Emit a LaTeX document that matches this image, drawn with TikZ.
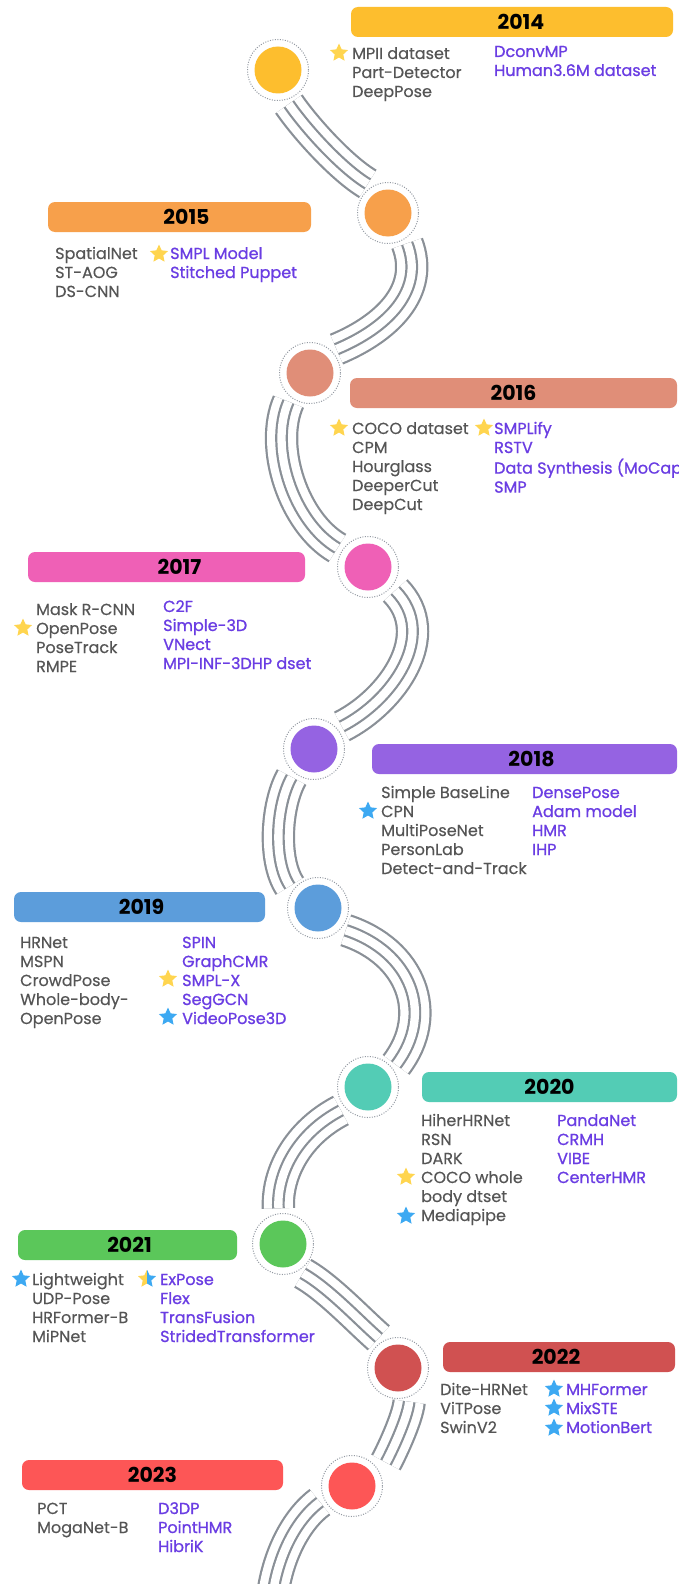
\documentclass[tikz,border=0pt]{standalone}
\usepackage{fontspec}
\setmainfont{Poppins}
\newfontfamily\tloldfont{Poppins}[FakeBold=0.35]
\newfontfamily\tlnewfont{Poppins}[FakeBold=0.9]
\usepackage{tikz}
\usetikzlibrary{shapes.geometric, positioning}
\definecolor{yr14}{HTML}{FDBE2E}
\definecolor{yr15}{HTML}{F7A04B}
\definecolor{yr16}{HTML}{E08E78}
\definecolor{yr17}{HTML}{EF60B6}
\definecolor{yr18}{HTML}{9563E2}
\definecolor{yr19}{HTML}{5C9DDB}
\definecolor{yr20}{HTML}{53CCB5}
\definecolor{yr21}{HTML}{5BC75A}
\definecolor{yr22}{HTML}{D05151}
\definecolor{yr23}{HTML}{FD5656}
\definecolor{tlBand}{HTML}{8A9097}
\definecolor{tlRing}{HTML}{9399A2}
\definecolor{tlGray}{HTML}{555555}
\definecolor{tlPurple}{HTML}{6A3DE3}
\definecolor{tlYellow}{HTML}{FFD54F}
\definecolor{tlBlue}{HTML}{3DA9F2}
\newcommand{\tlfont}{\fontsize{16}{19}\selectfont}
\newcommand{\tllist}[1]{\begin{tabular}[t]{@{}l@{}}#1\end{tabular}}
\tikzset{
  tl-dot/.style={
    circle, minimum size=61pt, inner sep=0pt, draw=tlRing,
    line width=1pt, dash pattern=on 1pt off 1.5pt, fill=white,
    path picture={\fill[#1] (path picture bounding box.center) circle (23.5pt);}
  },
  tl-bar/.style={
    rectangle, rounded corners=7pt, fill=#1, minimum height=30pt,
    inner sep=0pt
  },
  tl-year/.style={inner sep=0pt, text=black, font=\fontsize{20.5}{20}\selectfont\bfseries},
  tl-old/.style={anchor=base west, inner sep=0pt, text=tlGray, font=\tlfont\tloldfont},
  tl-new/.style={tl-old, text=tlPurple, font=\tlfont\tlnewfont},
  tl-star/.style={
    star, star points=5, star point ratio=2.1, minimum size=19pt,
    inner sep=0pt, fill=#1
  },
  tl-half/.style={
    tl-star=none,
    path picture={
      \fill[tlYellow] (path picture bounding box.north west) rectangle (path picture bounding box.south);
      \fill[tlBlue] (path picture bounding box.north) rectangle (path picture bounding box.south east);
    }
  },
  tl-band/.style={
    draw=tlBand, line width=2.2pt, double=white, double distance=29pt,
    shorten <=5pt, shorten >=5pt,
    postaction={draw=tlBand, line width=2.2pt, double=white, double distance=8.3pt}
  },
}

\begin{document}
\begin{tikzpicture}[x=1pt, y=-1pt, font=\tlfont]
  \fill[white] (0,0) rectangle (678,1584);
  \useasboundingbox (0,0) rectangle (678,1584);

  % dots on the ribbon
  \node[tl-dot=yr14] (d14) at (278,70) {};
  \node[tl-dot=yr15] (d15) at (388,213) {};
  \node[tl-dot=yr16] (d16) at (310,373) {};
  \node[tl-dot=yr17] (d17) at (368,567) {};
  \node[tl-dot=yr18] (d18) at (314,749) {};
  \node[tl-dot=yr19] (d19) at (318,908) {};
  \node[tl-dot=yr20] (d20) at (368,1087) {};
  \node[tl-dot=yr21] (d21) at (283,1244) {};
  \node[tl-dot=yr22] (d22) at (398,1368) {};
  \node[tl-dot=yr23] (d23) at (352,1486) {};
  \coordinate (tail) at (272,1600);

  % ribbon
  \draw[tl-band] (d14.285) .. controls +(20,29) and +(-30,-18) .. (d15.121);
  \draw[tl-band] (d15.304) .. controls +(20,52) and +(55,-23) .. (d16.45);
  \draw[tl-band] (d16.231) .. controls +(-22,50) and +(-48,-28) .. (d17.148);
  \draw[tl-band] (d17.320) .. controls +(47,48) and +(55,-28) .. (d18.41);
  \draw[tl-band] (d18.230) .. controls +(-18,32) and +(-20,-30) .. (d19.145);
  \draw[tl-band] (d19.318) .. controls +(70,23) and +(42,-55) .. (d20.36);
  \draw[tl-band] (d20.223) .. controls +(-48,25) and +(-2,-40) .. (d21.98);
  \draw[tl-band] (d21.300) .. controls +(30,17) and +(-25,-22) .. (d22.120);
  \draw[tl-band, shorten >=12pt] (d22.292) .. controls +(-2,22) and +(10,-18) .. (d23.25);
  \draw[tl-band, shorten >=0pt] (d23.205) .. controls +(-27,20) and +(5,-45) .. (tail);

  % year bars
  \node[tl-bar=yr14, minimum width=322pt] (b14) at (512,22) {};
  \node[tl-bar=yr15, minimum width=263pt] (b15) at (179.5,217) {};
  \node[tl-bar=yr16, minimum width=327pt] (b16) at (513.5,393) {};
  \node[tl-bar=yr17, minimum width=277pt] (b17) at (166.5,567) {};
  \node[tl-bar=yr18, minimum width=305pt] (b18) at (524.5,759) {};
  \node[tl-bar=yr19, minimum width=251pt] (b19) at (139.5,907) {};
  \node[tl-bar=yr20, minimum width=255pt] (b20) at (549.5,1087) {};
  \node[tl-bar=yr21, minimum width=219pt] (b21) at (127.5,1245) {};
  \node[tl-bar=yr22, minimum width=232pt] (b22) at (559,1357) {};
  \node[tl-bar=yr23, minimum width=261pt] (b23) at (152.5,1475) {};

  \node[tl-year, xshift=9pt] (y14) at (b14) {2014};
  \node[tl-year, xshift=7pt] (y15) at (b15) {2015};
  \node[tl-year] (y16) at (b16) {2016};
  \node[tl-year, xshift=13pt] (y17) at (b17) {2017};
  \node[tl-year, xshift=7pt] (y18) at (b18) {2018};
  \node[tl-year, xshift=2pt] (y19) at (b19) {2019};
  \node[tl-year] (y20) at (b20) {2020};
  \node[tl-year, xshift=2pt] (y21) at (b21) {2021};
  \node[tl-year, xshift=-3pt] (y22) at (b22) {2022};
  \node[tl-year] (y23) at (b23) {2023};

  % 2014
  \node[tl-old] (o14) at (352,59) {\tllist{MPII dataset\\Part-Detector\\DeepPose}};
  \node[tl-new] (n14) at (494,57) {\tllist{DconvMP\\Human3.6M dataset}};
  \node[tl-star=tlYellow] (s14) at (339,53) {};
  % 2015
  \node[tl-old] (o15) at (55,259) {\tllist{SpatialNet\\ST-AOG\\DS-CNN}};
  \node[tl-new] (n15) at (170,259) {\tllist{SMPL Model\\Stitched Puppet}};
  \node[tl-star=tlYellow] (s15) at (159,254) {};
  % 2016
  \node[tl-old] (o16) at (352,434) {\tllist{COCO dataset\\CPM\\Hourglass\\DeeperCut\\DeepCut}};
  \node[tl-new] (n16) at (494,434) {\tllist{SMPLify\\RSTV\\Data Synthesis (MoCap\\SMP}};
  \node[tl-star=tlYellow] (s16a) at (339,428) {};
  \node[tl-star=tlYellow] (s16b) at (484,428) {};
  % 2017
  \node[tl-old] (o17) at (36,615) {\tllist{Mask R-CNN\\OpenPose\\PoseTrack\\RMPE}};
  \node[tl-new] (n17) at (163,612) {\tllist{C2F\\Simple-3D\\VNect\\MPI-INF-3DHP dset}};
  \node[tl-star=tlYellow] (s17) at (23,628) {};
  % 2018
  \node[tl-old] (o18) at (381,798) {\tllist{Simple BaseLine\\CPN\\MultiPoseNet\\PersonLab\\Detect-and-Track}};
  \node[tl-new] (n18) at (532,798) {\tllist{DensePose\\Adam model\\HMR\\IHP}};
  \node[tl-star=tlBlue] (s18) at (368,811) {};
  % 2019
  \node[tl-old] (o19) at (20,948) {\tllist{HRNet\\MSPN\\CrowdPose\\Whole-body-\\OpenPose}};
  \node[tl-new] (n19) at (182,948) {\tllist{SPIN\\GraphCMR\\SMPL-X\\SegGCN\\VideoPose3D}};
  \node[tl-star=tlYellow] (s19a) at (168,979) {};
  \node[tl-star=tlBlue] (s19b) at (168,1017) {};
  % 2020
  \node[tl-old] (o20) at (421,1126) {\tllist{HiherHRNet\\RSN\\DARK\\COCO whole\\body dtset\\Mediapipe}};
  \node[tl-new] (n20) at (557,1126) {\tllist{PandaNet\\CRMH\\VIBE\\CenterHMR}};
  \node[tl-star=tlYellow] (s20a) at (406,1177) {};
  \node[tl-star=tlBlue] (s20b) at (406,1216) {};
  % 2021
  \node[tl-old] (o21) at (32,1285) {\tllist{Lightweight\\UDP-Pose\\HRFormer-B\\MiPNet}};
  \node[tl-new] (n21) at (160,1285) {\tllist{ExPose\\Flex\\TransFusion\\StridedTransformer}};
  \node[tl-star=tlBlue] (s21a) at (21,1279) {};
  \node[tl-half] (s21b) at (147,1279) {};
  % 2022
  \node[tl-old] (o22) at (440,1395) {\tllist{Dite-HRNet\\ViTPose\\SwinV2}};
  \node[tl-new] (n22) at (566,1395) {\tllist{MHFormer\\MixSTE\\MotionBert}};
  \node[tl-star=tlBlue] (s22a) at (554,1389) {};
  \node[tl-star=tlBlue] (s22b) at (554,1408) {};
  \node[tl-star=tlBlue] (s22c) at (554,1428) {};
  % 2023
  \node[tl-old] (o23) at (37,1514) {\tllist{PCT\\MogaNet-B}};
  \node[tl-new] (n23) at (158,1514) {\tllist{D3DP\\PointHMR\\HibriK}};
\end{tikzpicture}
\end{document}
